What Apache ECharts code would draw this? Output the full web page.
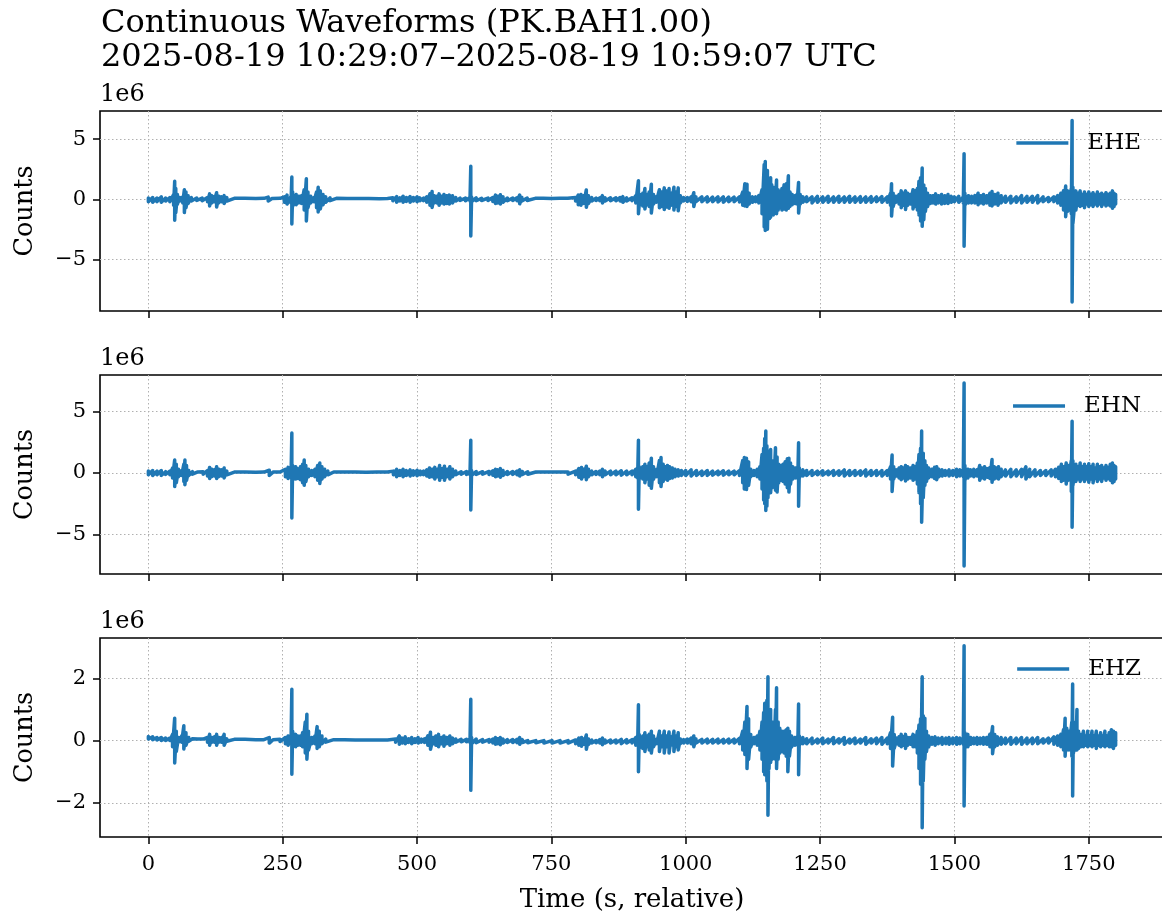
<!DOCTYPE html>
<html>
<head>
<meta charset="utf-8">
<script src="https://cdn.jsdelivr.net/npm/echarts@6/dist/echarts.min.js"></script>
<style>
html,body{margin:0;padding:0;background:#fff;}
#chart{width:1162px;height:915px;}
</style>
</head>
<body>
<div id="chart"></div>
<script>
// ---- DATA (counts in units of 1e6), each entry: [time s, upper envelope, lower envelope] ----
const channels = ['EHE', 'EHN', 'EHZ'];
const xTicks = [0, 250, 500, 750, 1000, 1250, 1500, 1750];
const yTicksE = [-5, 0, 5];
const yTicksN = [-5, 0, 5];
const yTicksZ = [-2, 0, 2];

const ehe = [
[0,0.1,-0.2],[8,0.15,-0.25],[16,0.1,-0.2],[24,0.2,-0.25],[32,0.1,-0.15],[40,0.15,-0.2],
[47,0.4,-0.5],[49,1.5,-1.75],[51,0.9,-1.1],[54,0.4,-0.4],[58,0.15,-0.15],
[64,0.2,-0.3],[67,0.8,-1.1],[70,0.6,-0.7],[74,0.3,-0.35],[80,0.15,-0.15],
[90,0.1,-0.1],[100,0.1,-0.12],[110,0.15,-0.2],[114,0.45,-0.55],[118,0.3,-0.3],[122,0.2,-0.2],[127,0.55,-0.65],[131,0.25,-0.3],[136,0.2,-0.2],[141,0.3,-0.35],[146,0.15,-0.15],
[160,0.08,-0.08],[180,0.08,-0.08],[200,0.06,-0.06],[215,0.08,-0.08],[223,0.18,-0.15],[230,0.06,-0.06],[245,0.08,-0.08],
[253,0.2,-0.25],[258,0.35,-0.4],[265.5,0.25,-0.3],[267,1.85,-2.05],[268.5,0.6,-0.6],[275,0.4,-0.45],[280,0.25,-0.3],[285,0.3,-0.35],[290,0.8,-0.9],[294,1.7,-1.8],[297,0.6,-0.7],[302,0.25,-0.3],[308,0.15,-0.2],[313,0.6,-0.7],[316,1.0,-1.05],[320,0.7,-0.8],[325,0.4,-0.45],[330,0.2,-0.25],[338,0.12,-0.12],
[350,0.08,-0.08],[370,0.06,-0.07],[390,0.06,-0.06],[410,0.06,-0.06],[430,0.05,-0.06],[445,0.07,-0.08],[455,0.12,-0.12],
[462,0.22,-0.25],[468,0.12,-0.15],[474,0.25,-0.25],[480,0.15,-0.18],[487,0.22,-0.25],[493,0.15,-0.15],[500,0.2,-0.2],[505,0.12,-0.12],[512,0.1,-0.12],[518,0.2,-0.25],
[524,0.45,-0.5],[528,0.65,-0.68],[532,0.3,-0.3],[537,0.25,-0.3],[541,0.45,-0.5],[545,0.25,-0.3],[550,0.4,-0.4],[555,0.3,-0.35],[560,0.35,-0.4],[566,0.3,-0.3],[572,0.15,-0.15],[580,0.1,-0.1],[590,0.1,-0.12],[598.5,0.15,-0.15],
[600,2.75,-3.05],[601.5,0.2,-0.2],[610,0.12,-0.12],[620,0.08,-0.1],[632,0.1,-0.1],[641,0.15,-0.18],
[646,0.35,-0.35],[650,0.25,-0.3],[655,0.38,-0.4],[660,0.2,-0.25],[668,0.1,-0.12],[678,0.1,-0.1],[686,0.12,-0.12],[691,0.35,-0.38],[695,0.15,-0.15],
[705,0.1,-0.1],[720,0.08,-0.08],[735,0.08,-0.08],[750,0.07,-0.07],[765,0.08,-0.08],[780,0.08,-0.08],[795,0.15,-0.15],
[800,0.35,-0.45],[805,0.4,-0.5],[810,0.3,-0.35],[815,0.78,-0.67],[819,0.3,-0.35],[825,0.15,-0.15],[833,0.1,-0.1],[840,0.12,-0.12],[845,0.3,-0.3],[850,0.12,-0.15],[860,0.12,-0.12],[870,0.12,-0.12],[878,0.15,-0.15],[883,0.22,-0.25],[890,0.12,-0.15],[900,0.12,-0.12],
[907,0.3,-0.3],[912,1.55,-1.2],[915,0.4,-0.45],[920,0.5,-0.55],[924,0.9,-0.8],[928,0.4,-0.45],[932,0.6,-0.6],[936,1.25,-1.15],[940,0.4,-0.4],[945,0.2,-0.25],[951,0.8,-0.7],[955,0.6,-0.6],[960,0.95,-0.85],[964,0.7,-0.65],[969,0.9,-0.75],[973,0.5,-0.5],[978,1.0,-0.9],[982,0.6,-0.6],[986,0.95,-0.95],[990,0.3,-0.3],[996,0.15,-0.15],[1003,0.15,-0.18],[1010,0.2,-0.2],[1015,0.55,-0.6],[1019,0.2,-0.2],
[1030,0.2,-0.2],[1040,0.2,-0.22],[1050,0.18,-0.2],[1060,0.2,-0.22],[1070,0.2,-0.25],[1080,0.18,-0.2],[1090,0.18,-0.2],[1100,0.2,-0.22],
[1106,0.6,-0.5],[1110,1.3,-0.55],[1114,1.25,-0.6],[1118,0.5,-0.4],[1124,0.2,-0.25],[1130,0.2,-0.2],[1136,0.3,-0.3],
[1142,0.8,-1.2],[1146,2.9,-2.3],[1148,3.15,-2.6],[1150,2.0,-1.8],[1152,2.4,-2.5],[1154,1.6,-1.5],[1156,1.2,-1.6],[1158,1.8,-1.5],[1160,1.2,-1.1],[1163,1.0,-1.3],[1166,0.9,-0.8],[1169,1.6,-1.2],[1172,0.8,-0.9],[1175,0.6,-0.7],[1179,0.9,-0.9],[1183,1.2,-0.8],[1187,1.3,-0.9],[1191,1.95,-0.75],[1194,0.6,-0.6],[1198,0.4,-0.45],[1203,0.3,-0.35],[1207,0.4,-0.4],[1210,1.4,-1.15],[1213,0.4,-0.4],[1218,0.2,-0.25],[1225,0.2,-0.2],
[1235,0.2,-0.3],[1245,0.25,-0.25],[1255,0.2,-0.25],[1265,0.25,-0.25],[1275,0.2,-0.25],[1285,0.25,-0.25],[1295,0.2,-0.25],[1305,0.25,-0.25],[1315,0.2,-0.25],[1325,0.22,-0.25],[1335,0.2,-0.25],[1345,0.22,-0.25],[1355,0.2,-0.2],[1365,0.22,-0.25],[1375,0.2,-0.25],
[1381,0.5,-0.5],[1383,1.3,-1.4],[1386,0.5,-0.6],[1391,0.25,-0.25],[1397,0.4,-0.4],[1401,0.7,-0.7],[1405,0.5,-0.5],[1409,0.7,-0.85],[1413,0.5,-0.5],[1418,0.4,-0.4],[1423,0.8,-0.8],[1427,0.7,-0.6],[1431,0.9,-0.9],[1434,1.5,-1.3],[1437,1.8,-1.8],[1440,2.6,-2.25],[1443,1.2,-1.7],[1446,0.9,-1.0],[1450,0.5,-0.6],[1455,0.3,-0.35],[1460,0.3,-0.3],[1465,0.45,-0.4],[1470,0.3,-0.3],[1476,0.4,-0.4],[1482,0.3,-0.35],[1488,0.4,-0.35],[1494,0.25,-0.25],[1500,0.2,-0.2],[1508,0.25,-0.25],[1516.5,0.2,-0.3],
[1518,3.8,-3.9],[1519.5,0.5,-0.5],[1526,0.3,-0.3],[1532,0.25,-0.3],[1538,0.3,-0.3],[1544,0.5,-0.45],[1549,0.3,-0.3],[1554,0.4,-0.4],[1560,0.3,-0.3],[1566,0.5,-0.5],[1570,0.65,-0.55],[1575,0.4,-0.4],[1581,0.5,-0.5],[1587,0.3,-0.3],
[1595,0.25,-0.25],[1605,0.25,-0.3],[1615,0.2,-0.25],[1625,0.3,-0.3],[1635,0.25,-0.25],[1645,0.25,-0.25],[1655,0.3,-0.3],[1665,0.2,-0.2],[1675,0.15,-0.2],[1685,0.2,-0.2],[1692,0.3,-0.3],[1698,0.5,-0.5],[1703,0.7,-0.9],[1707,1.1,-1.45],[1711,0.7,-1.0],[1717.5,0.9,-1.2],
[1719,6.55,-8.55],[1720.5,1.0,-2.0],[1726,0.7,-0.9],[1730,0.5,-0.5],[1734,0.7,-0.6],[1738,0.4,-0.5],[1742,0.6,-0.7],[1746,0.4,-0.4],[1750,0.6,-0.6],[1754,0.4,-0.45],[1758,0.55,-0.6],[1762,0.35,-0.4],[1766,0.6,-0.55],[1770,0.4,-0.4],[1774,0.5,-0.6],[1778,0.35,-0.4],[1782,0.55,-0.55],[1786,0.4,-0.45],[1790,0.5,-0.55],[1794,0.7,-0.75],[1797,0.5,-0.6],[1800,0.4,-0.4]
];

const ehn = [
[0,0.15,-0.15],[8,0.2,-0.2],[16,0.15,-0.15],[24,0.2,-0.2],[32,0.1,-0.12],[40,0.15,-0.15],[45,0.4,-0.4],[49,1.05,-1.1],[52,0.7,-0.8],[56,0.3,-0.3],[62,0.2,-0.2],[66,0.7,-0.7],[68,1.05,-0.95],[71,0.6,-0.6],[75,0.2,-0.2],[82,0.1,-0.1],[92,0.08,-0.08],[102,0.1,-0.1],[110,0.2,-0.25],[114,0.45,-0.45],[118,0.3,-0.3],[123,0.25,-0.25],[127,0.5,-0.45],[131,0.3,-0.3],[136,0.25,-0.25],[141,0.4,-0.4],[146,0.15,-0.15],
[160,0.07,-0.07],[180,0.07,-0.07],[200,0.06,-0.06],[215,0.07,-0.07],[225,0.22,-0.2],[232,0.07,-0.07],[245,0.08,-0.08],
[255,0.3,-0.3],[260,0.45,-0.45],[265.5,0.35,-0.35],[267,3.25,-3.65],[268.5,0.6,-0.6],[274,0.5,-0.5],[278,0.35,-0.45],[283,0.5,-0.55],[287,0.7,-0.8],[290,1.05,-1.0],[293,0.6,-0.7],[298,0.3,-0.3],[304,0.2,-0.2],[310,0.3,-0.3],[315,0.6,-0.6],[319,0.8,-0.85],[323,0.5,-0.5],[328,0.3,-0.3],[334,0.15,-0.15],
[345,0.08,-0.08],[365,0.07,-0.07],[385,0.07,-0.07],[405,0.06,-0.06],[425,0.07,-0.07],[445,0.08,-0.08],[456,0.15,-0.15],
[462,0.3,-0.3],[468,0.2,-0.2],[474,0.3,-0.3],[480,0.2,-0.2],[487,0.25,-0.25],[493,0.18,-0.18],[500,0.22,-0.22],[506,0.15,-0.15],[512,0.15,-0.15],[518,0.25,-0.25],[523,0.4,-0.35],[528,0.3,-0.3],[533,0.45,-0.5],[538,0.3,-0.3],[542,0.6,-0.6],[546,0.35,-0.35],[551,0.55,-0.6],[556,0.3,-0.3],[561,0.5,-0.5],[566,0.3,-0.3],[572,0.15,-0.15],[582,0.1,-0.1],[592,0.12,-0.12],[598.5,0.15,-0.15],
[600,2.65,-3.0],[601.5,0.2,-0.2],[610,0.12,-0.12],[622,0.1,-0.1],[634,0.12,-0.12],[641,0.18,-0.18],[646,0.3,-0.3],[650,0.25,-0.25],[655,0.35,-0.35],[660,0.2,-0.2],[668,0.12,-0.12],[678,0.12,-0.12],[686,0.15,-0.15],[691,0.25,-0.25],[696,0.12,-0.12],
[706,0.1,-0.1],[721,0.08,-0.08],[736,0.08,-0.08],[751,0.08,-0.08],[766,0.08,-0.08],[781,0.08,-0.1],[795,0.15,-0.15],[801,0.35,-0.35],[806,0.45,-0.5],[810,0.3,-0.3],[815,0.55,-0.55],[819,0.3,-0.3],[825,0.15,-0.15],[833,0.12,-0.12],[840,0.15,-0.15],[845,0.3,-0.3],[850,0.15,-0.15],[860,0.15,-0.15],[870,0.15,-0.15],[880,0.18,-0.18],[890,0.15,-0.15],[900,0.15,-0.15],
[907,0.3,-0.3],[910.5,0.4,-0.4],[912,2.65,-2.95],[913.5,0.5,-0.5],[920,0.5,-0.5],[924,0.7,-0.8],[928,0.5,-0.5],[932,0.8,-1.0],[936,1.2,-1.25],[940,0.5,-0.5],[946,0.3,-0.3],[951,1.0,-0.8],[954,1.25,-1.1],[958,0.7,-0.7],[962,0.5,-0.5],[966,0.6,-0.6],[970,0.5,-0.45],[975,0.4,-0.4],[980,0.3,-0.3],[986,0.25,-0.25],[992,0.2,-0.2],
[1000,0.2,-0.2],[1010,0.25,-0.25],[1020,0.2,-0.2],[1030,0.15,-0.2],[1040,0.2,-0.2],[1050,0.15,-0.18],[1060,0.15,-0.15],[1070,0.18,-0.18],[1080,0.15,-0.15],[1090,0.15,-0.15],[1100,0.2,-0.2],
[1106,1.0,-0.8],[1109,1.25,-1.3],[1113,1.2,-1.35],[1117,0.9,-1.0],[1121,0.3,-0.3],[1127,0.2,-0.2],[1133,0.3,-0.3],[1138,0.5,-0.5],[1142,1.5,-1.3],[1145,2.0,-2.2],[1147,2.8,-2.5],[1149,3.4,-3.05],[1151,2.2,-2.7],[1153,1.8,-2.0],[1155,1.4,-1.5],[1158,1.9,-1.6],[1161,1.0,-1.2],[1164,0.9,-1.0],[1167,2.05,-1.4],[1170,1.3,-1.55],[1173,0.7,-0.8],[1177,0.6,-0.6],[1181,0.7,-0.7],[1185,0.9,-0.9],[1189,1.15,-1.2],[1192,1.2,-1.55],[1195,0.8,-0.9],[1199,0.5,-0.5],[1204,0.4,-0.4],[1208.5,0.4,-0.4],[1210,2.45,-2.7],[1211.5,0.4,-0.4],[1218,0.25,-0.25],[1225,0.2,-0.2],
[1235,0.2,-0.2],[1245,0.15,-0.15],[1255,0.18,-0.18],[1265,0.15,-0.15],[1275,0.2,-0.2],[1285,0.18,-0.18],[1295,0.25,-0.25],[1305,0.2,-0.2],[1315,0.2,-0.2],[1325,0.18,-0.18],[1335,0.25,-0.25],[1345,0.2,-0.2],[1355,0.2,-0.2],[1365,0.2,-0.25],[1375,0.2,-0.2],
[1381,0.5,-0.5],[1384,1.45,-1.5],[1387,0.5,-0.5],[1392,0.25,-0.25],[1397,0.4,-0.4],[1401,0.5,-0.55],[1405,0.4,-0.4],[1409,0.6,-0.65],[1413,0.5,-0.5],[1418,0.4,-0.4],[1423,0.6,-0.6],[1427,0.5,-0.5],[1431,0.8,-0.9],[1434,1.5,-1.6],[1437,2.0,-2.5],[1439,3.4,-4.0],[1442,1.6,-2.0],[1445,1.0,-1.0],[1448,0.6,-0.7],[1452,0.4,-0.4],[1458,0.3,-0.3],[1463,0.45,-0.45],[1467,0.5,-0.55],[1471,0.3,-0.3],[1477,0.25,-0.25],[1483,0.2,-0.2],[1490,0.25,-0.25],[1497,0.2,-0.2],[1504,0.3,-0.3],[1510,0.25,-0.25],[1516.5,0.3,-0.3],
[1518,7.3,-7.55],[1519.5,0.6,-0.6],[1525,0.3,-0.4],[1530,0.25,-0.25],[1536,0.3,-0.3],[1542,0.25,-0.25],[1547,0.6,-0.6],[1551,0.4,-0.4],[1556,0.5,-0.5],[1561,0.35,-0.35],[1566,0.45,-0.45],[1570,1.1,-0.75],[1574,0.5,-0.5],[1578,0.4,-0.4],[1582,0.5,-0.5],[1587,0.3,-0.3],
[1595,0.25,-0.25],[1605,0.3,-0.3],[1615,0.25,-0.25],[1625,0.3,-0.3],[1633,0.5,-0.5],[1640,0.3,-0.3],[1650,0.25,-0.25],[1660,0.2,-0.2],[1670,0.2,-0.2],[1680,0.25,-0.25],[1688,0.3,-0.3],[1694,0.45,-0.45],[1699,0.7,-0.7],[1703,0.5,-0.6],[1708,0.8,-0.9],[1712,0.6,-0.6],[1717.5,1.0,-1.5],
[1719,4.2,-4.4],[1720.5,1.0,-1.0],[1726,0.7,-0.7],[1730,0.5,-0.5],[1734,0.8,-0.7],[1738,0.5,-0.5],[1742,0.7,-0.7],[1746,0.5,-0.5],[1750,0.75,-0.75],[1754,0.5,-0.5],[1758,0.7,-0.8],[1762,0.4,-0.45],[1766,0.7,-0.7],[1770,0.5,-0.5],[1774,0.6,-0.7],[1778,0.4,-0.4],[1782,0.6,-0.6],[1786,0.45,-0.45],[1790,0.7,-0.6],[1794,0.8,-0.8],[1797,0.6,-0.7],[1800,0.5,-0.5]
];

const ehz = [
[0,0.13,0.05],[8,0.12,0.03],[16,0.1,0.02],[24,0.1,0.0],[32,0.08,0.0],[40,0.08,0.0],[45,0.2,-0.2],[49,0.72,-0.72],[52,0.3,-0.35],[56,0.1,-0.05],[62,0.15,-0.05],[66,0.48,-0.27],[70,0.25,-0.15],[75,0.1,-0.02],[82,0.06,0.0],[92,0.05,0.0],[102,0.05,0.0],[110,0.1,-0.05],[114,0.2,-0.15],[118,0.1,-0.05],[123,0.12,-0.05],[127,0.2,-0.15],[131,0.1,-0.05],[136,0.1,-0.05],[141,0.2,-0.15],[146,0.06,-0.02],
[160,0.04,-0.02],[180,0.04,-0.02],[200,0.03,-0.02],[215,0.03,-0.02],[225,0.1,-0.08],[232,0.03,-0.02],[245,0.04,-0.03],
[255,0.1,-0.1],[260,0.15,-0.15],[265.5,0.1,-0.1],[267,1.65,-1.08],[268.5,0.3,-0.2],[274,0.2,-0.2],[278,0.15,-0.15],[283,0.15,-0.15],[287,0.25,-0.2],[292,0.6,-0.4],[295,0.85,-0.6],[298,0.3,-0.3],[304,0.1,-0.1],[310,0.15,-0.1],[314,0.45,-0.25],[318,0.3,-0.2],[323,0.15,-0.1],[330,0.05,-0.05],
[345,0.03,-0.03],[365,0.03,-0.03],[385,0.02,-0.03],[405,0.02,-0.03],[425,0.02,-0.03],[445,0.02,-0.03],[460,0.05,-0.05],
[467,0.15,-0.12],[472,0.08,-0.08],[478,0.12,-0.1],[484,0.06,-0.06],[490,0.1,-0.1],[496,0.06,-0.06],[502,0.1,-0.08],[508,0.05,-0.05],[514,0.06,-0.06],[520,0.15,-0.15],[525,0.27,-0.28],[530,0.1,-0.1],[535,0.15,-0.15],[540,0.2,-0.2],[545,0.1,-0.1],[550,0.15,-0.18],[555,0.1,-0.1],[561,0.15,-0.15],[566,0.08,-0.1],[572,0.05,-0.05],[582,0.04,-0.04],[592,0.04,-0.04],[598.5,0.06,-0.06],
[600,1.33,-1.6],[601.5,0.1,-0.1],[610,0.05,-0.07],[622,0.03,-0.05],[634,0.03,-0.05],[641,0.05,-0.08],[646,0.1,-0.12],[650,0.06,-0.1],[655,0.1,-0.13],[660,0.05,-0.08],[668,0.03,-0.06],[678,0.03,-0.06],[686,0.04,-0.07],[691,0.1,-0.12],[696,0.03,-0.06],
[706,0.0,-0.07],[721,0.0,-0.07],[736,0.0,-0.08],[751,0.0,-0.08],[766,0.0,-0.08],[781,0.0,-0.08],[795,0.02,-0.1],[801,0.08,-0.15],[806,0.1,-0.18],[810,0.05,-0.12],[815,0.18,-0.28],[819,0.05,-0.12],[825,0.02,-0.08],[833,0.0,-0.07],[840,0.03,-0.08],[845,0.08,-0.13],[850,0.02,-0.08],[860,0.02,-0.08],[870,0.02,-0.08],[880,0.04,-0.1],[890,0.03,-0.08],[900,0.03,-0.08],
[907,0.1,-0.15],[910.5,0.15,-0.15],[912,1.15,-1.0],[913.5,0.2,-0.25],[920,0.15,-0.25],[924,0.25,-0.35],[928,0.15,-0.2],[932,0.2,-0.3],[936,0.3,-0.4],[940,0.15,-0.2],[946,0.05,-0.1],[951,0.3,-0.35],[955,0.15,-0.2],[960,0.3,-0.4],[964,0.15,-0.2],[969,0.28,-0.4],[973,0.12,-0.15],[978,0.3,-0.35],[982,0.15,-0.2],[986,0.25,-0.3],[990,0.05,-0.1],[996,0.03,-0.08],[1003,0.05,-0.08],[1010,0.08,-0.1],[1015,0.15,-0.2],[1019,0.05,-0.08],
[1030,0.04,-0.08],[1040,0.05,-0.08],[1050,0.04,-0.08],[1060,0.05,-0.08],[1070,0.04,-0.08],[1080,0.05,-0.08],[1090,0.05,-0.08],[1100,0.07,-0.1],[1106,0.3,-0.3],[1110,0.6,-0.45],[1114,1.1,-0.9],[1117,0.7,-0.6],[1121,0.2,-0.2],[1127,0.1,-0.1],[1133,0.15,-0.15],[1138,0.3,-0.3],[1142,0.6,-0.6],[1145,0.9,-1.0],[1147,1.2,-1.1],[1149,1.0,-0.8],[1151,1.3,-1.3],[1153,2.05,-2.4],[1155,0.9,-0.9],[1158,1.0,-0.7],[1161,0.6,-0.6],[1164,0.5,-0.5],[1167,1.0,-0.6],[1169,1.7,-0.9],[1172,0.6,-0.6],[1175,0.4,-0.4],[1179,0.3,-0.35],[1183,0.3,-0.4],[1187,0.35,-0.5],[1190,0.4,-1.0],[1193,0.3,-0.5],[1197,0.15,-0.2],[1203,0.1,-0.15],[1208.5,0.15,-0.15],[1210,1.18,-1.1],[1211.5,0.15,-0.15],[1218,0.1,-0.1],[1225,0.06,-0.1],
[1235,0.08,-0.1],[1245,0.05,-0.08],[1255,0.08,-0.1],[1265,0.05,-0.08],[1275,0.1,-0.1],[1285,0.06,-0.08],[1295,0.1,-0.12],[1305,0.05,-0.08],[1315,0.08,-0.1],[1325,0.05,-0.08],[1335,0.1,-0.12],[1345,0.06,-0.08],[1355,0.08,-0.1],[1365,0.1,-0.12],[1375,0.08,-0.1],
[1381,0.25,-0.25],[1385,0.75,-0.82],[1388,0.2,-0.25],[1393,0.08,-0.1],[1397,0.12,-0.15],[1401,0.2,-0.2],[1405,0.12,-0.15],[1409,0.2,-0.25],[1413,0.1,-0.15],[1418,0.1,-0.12],[1423,0.2,-0.2],[1427,0.15,-0.2],[1431,0.3,-0.4],[1434,0.5,-0.9],[1437,0.7,-1.4],[1440,2.05,-2.8],[1442,0.8,-1.3],[1445,0.72,-0.6],[1448,0.3,-0.35],[1452,0.15,-0.2],[1458,0.1,-0.12],[1464,0.12,-0.15],[1470,0.08,-0.1],[1477,0.1,-0.12],[1484,0.08,-0.1],[1490,0.1,-0.12],[1497,0.08,-0.1],[1504,0.1,-0.12],[1510,0.08,-0.1],[1516.5,0.1,-0.12],
[1518,3.05,-2.1],[1519.5,0.25,-0.25],[1525,0.2,-0.2],[1530,0.1,-0.12],[1536,0.08,-0.1],[1542,0.1,-0.12],[1548,0.08,-0.1],[1554,0.1,-0.12],[1560,0.1,-0.12],[1566,0.2,-0.2],[1571,0.45,-0.42],[1575,0.2,-0.2],[1580,0.12,-0.15],[1587,0.1,-0.12],
[1595,0.08,-0.1],[1605,0.1,-0.12],[1615,0.08,-0.1],[1625,0.1,-0.12],[1635,0.08,-0.1],[1645,0.08,-0.1],[1655,0.1,-0.1],[1665,0.06,-0.08],[1675,0.08,-0.08],[1685,0.12,-0.12],[1692,0.15,-0.15],[1698,0.2,-0.2],[1703,0.35,-0.3],[1706,0.72,-0.5],[1709,0.4,-0.3],[1713,0.3,-0.3],[1718.5,0.6,-0.5],
[1720,1.82,-1.78],[1721.5,0.6,-0.4],[1726,0.5,-0.3],[1728,1.0,-0.3],[1731,0.3,-0.25],[1735,0.2,-0.2],[1740,0.3,-0.2],[1744,0.15,-0.15],[1748,0.3,-0.2],[1752,0.15,-0.15],[1756,0.3,-0.2],[1760,0.15,-0.15],[1764,0.3,-0.25],[1768,0.15,-0.15],[1772,0.25,-0.2],[1776,0.15,-0.15],[1780,0.3,-0.2],[1784,0.15,-0.15],[1788,0.25,-0.2],[1792,0.35,-0.2],[1796,0.3,-0.25],[1800,0.25,-0.15]
];

const yRanges = [[-9.3, 7.35], [-8.2, 7.95], [-3.1, 3.3]];
const yTicks = [yTicksE, yTicksN, yTicksZ];
const traces = [ehe, ehn, ehz];

// ---- LAYOUT / STYLE ----
const FONT = "'DejaVu Serif', 'Liberation Serif', serif";
const BLUE = '#1f77b4';
const gridTops = [111, 375, 638];
const gridH = [200, 199, 199];

function toLine(env) {
  const out = [];
  env.forEach(function (p) { out.push([p[0], p[1]]); out.push([p[0], p[2]]); });
  return out;
}
function fmtY(v) { return String(v).replace('-', '\u2212'); }
function fmtX(v) { return String(v); }

const grid = [], xAxis = [], yAxis = [], series = [], legend = [];
const title = [{
  text: 'Continuous Waveforms (PK.BAH1.00)\n2025-08-19 10:29:07\u20132025-08-19 10:59:07 UTC',
  left: 101, top: 7, padding: 0,
  textStyle: { fontFamily: FONT, fontSize: 32, lineHeight: 34, fontWeight: 'normal', color: '#000' }
}];

for (let i = 0; i < 3; i++) {
  grid.push({ left: 100, top: gridTops[i], width: 1064, height: gridH[i], show: true,
    borderColor: '#000', borderWidth: 1.6, backgroundColor: 'transparent', containLabel: false, outerBoundsMode: 'none' });
  xAxis.push({
    type: 'value', gridIndex: i, min: -90, max: 1890, position: 'bottom',
    axisLine: { show: false, onZero: false },
    axisTick: { show: true, inside: false, length: 7, customValues: xTicks, lineStyle: { color: '#000', width: 1.5 } },
    axisLabel: { show: i === 2, customValues: xTicks, margin: 17, color: '#000', fontFamily: FONT, fontSize: 21, formatter: fmtX },
    splitLine: { show: true, lineStyle: { color: '#b0b0b0', type: [1.5, 2.5], width: 1 } },
    name: i === 2 ? 'Time (s, relative)' : '',
    nameLocation: 'middle', nameGap: 50,
    nameTextStyle: { fontFamily: FONT, fontSize: 26, color: '#000' }
  });
  yAxis.push({
    type: 'value', gridIndex: i, min: yRanges[i][0], max: yRanges[i][1], position: 'left',
    axisLine: { show: false, onZero: false },
    axisTick: { show: true, inside: false, length: 7, customValues: yTicks[i], lineStyle: { color: '#000', width: 1.5 } },
    axisLabel: { customValues: yTicks[i], margin: 14, color: '#000', fontFamily: FONT, fontSize: 21, formatter: fmtY },
    splitLine: { show: true, lineStyle: { color: '#b0b0b0', type: [1.5, 2.5], width: 1 } },
    name: 'Counts', nameLocation: 'middle', nameGap: 62,
    nameTextStyle: { fontFamily: FONT, fontSize: 25.5, color: '#000' }
  });
  series.push({
    name: channels[i], type: 'line', xAxisIndex: i, yAxisIndex: i,
    data: toLine(traces[i]), showSymbol: false, symbol: 'none', sampling: null,
    clip: true, animation: false, z: 3,
    lineStyle: { color: BLUE, width: 3.5, cap: 'round', join: 'round' },
    itemStyle: { color: BLUE }
  });
  legend.push({
    data: [channels[i]], right: 21, top: gridTops[i] + [19, 18, 18][i], padding: 0,
    icon: 'rect', itemWidth: 52, itemHeight: 3.5,
    textStyle: { fontFamily: FONT, fontSize: 23, color: '#000', lineHeight: 26, padding: [0, 0, 0, 14] },
    selectedMode: false
  });
  title.push({
    text: '1e6', left: 100, top: gridTops[i] - 28, padding: 0,
    textStyle: { fontFamily: FONT, fontSize: 24, fontWeight: 'normal', color: '#000' }
  });
}

const chart = echarts.init(document.getElementById('chart'), null, { renderer: 'canvas' });
chart.setOption({
  animation: false,
  backgroundColor: '#fff',
  title: title, grid: grid, xAxis: xAxis, yAxis: yAxis, series: series, legend: legend
});
</script>
</body>
</html>
